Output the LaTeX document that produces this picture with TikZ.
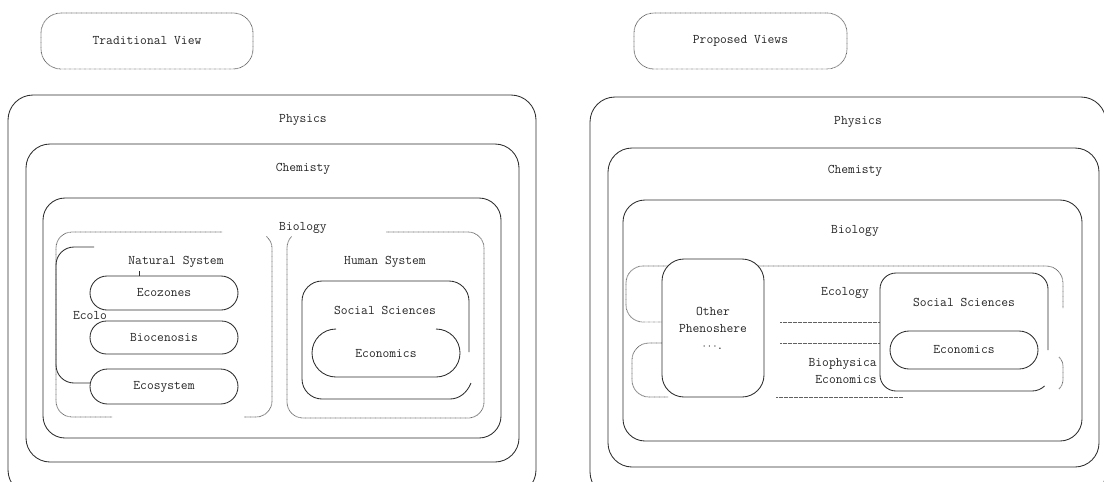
\documentclass[tikz,border=0pt]{standalone}
\usepackage{fontspec}
\begin{document}
\begin{tikzpicture}[x=1pt,y=-1pt,
  lbl/.style={font=\ttfamily\fontsize{13.2}{17}\selectfont, text=black!85, inner sep=0pt, align=center},
  solidline/.style={draw=black!82, line width=0.85pt},
  dotline/.style={draw=black!62, line width=0.8pt, dash pattern=on 0.7pt off 0.55pt},
  pill/.style={lbl, solidline, rounded corners=#1},
]
\clip (0,0) rectangle (1104,482);
\fill[white] (0,0) rectangle (1104,482);

% ---------- headings ----------
\node[lbl, dotline, rounded corners=20pt, minimum width=212pt, minimum height=56pt] (trad) at (147,41) {Traditional View};
\node[lbl, dotline, rounded corners=20pt, minimum width=213pt, minimum height=56pt] (prop) at (740.5,41) {Proposed Views};

% ---------- traditional view: nested disciplines ----------
\draw[solidline, rounded corners=25pt] (8,95) rectangle (536,495);
\draw[solidline, rounded corners=24pt] (26,144) rectangle (519,462);
\draw[solidline, rounded corners=22pt] (43,198) rectangle (501,438);
\node[lbl] (physL) at (303,120) {Physics};
\node[lbl] (chemL) at (303,169) {Chemisty};
\node[lbl] (bioL)  at (303,228) {Biology};

% natural system (dotted, open at the label and below)
\draw[dotline, rounded corners=16pt] (222,232) -- (56,232) -- (56,417) -- (112,417);
\draw[dotline] (266.5,236.5) .. controls (270,240) and (272,243.5) .. (272,248) -- (272,401)
  .. controls (272,409.8) and (264.8,417) .. (256,417) -- (244,417);
\node[lbl] (natsys) at (176,262) {Natural System};

% ecology bracket
\draw[solidline, rounded corners=18pt] (94,247) -- (56,247) -- (56,383) -- (90,383);
\node[lbl] (ecolL) at (90,316) {Ecolo};

\node[pill=17pt, minimum width=148pt, minimum height=34pt] (ecoz) at (164,293) {Ecozones};
\node[pill=16.5pt, fill=white, minimum width=148pt, minimum height=33pt] (biocen) at (164,337.5) {Biocenosis};
\node[pill=17.5pt, minimum width=148pt, minimum height=35pt] (ecosys) at (164,386.5) {Ecosystem};
\coordinate (tickA) at (139,271);
\draw[solidline] (tickA) -- (tickA |- ecoz.north);

% human system (dotted)
\draw[dotline] (291.5,236.5) .. controls (288.8,239.5) and (287,243.5) .. (287,248) -- (287,402)
  .. controls (287,410.8) and (294.2,418) .. (303,418) -- (468,418)
  .. controls (476.8,418) and (484,410.8) .. (484,402) -- (484,248)
  .. controls (484,239.2) and (476.8,232) .. (468,232) -- (386,232);
\node[lbl] (humsys) at (385,262) {Human System};

% social sciences and economics
\draw[solidline] (469,352) -- (469,301) .. controls (469,290) and (460,281) .. (449,281) -- (322,281)
  .. controls (311,281) and (302,290) .. (302,301) -- (302,379)
  .. controls (302,390) and (311,399) .. (322,399) -- (450,399)
  .. controls (459,399) and (467,393) .. (471,383);
\node[lbl] (socL) at (385,310) {Social Sciences};
\draw[solidline] (336,329) .. controls (322.7,329) and (312,339.7) .. (312,353)
  .. controls (312,366.3) and (322.7,377) .. (336,377) -- (436,377)
  .. controls (449.3,377) and (460,366.3) .. (460,353)
  .. controls (460,339.7) and (449.3,329) .. (436,329);
\node[lbl] (econL) at (386,354) {Economics};

% ---------- proposed views: nested disciplines ----------
\draw[solidline, rounded corners=25pt] (590,97) rectangle (1106,497);
\draw[solidline, rounded corners=24pt] (608,148) rectangle (1099,467);
\draw[solidline, rounded corners=22pt] (623,200) rectangle (1082,441);
\node[lbl] (physR) at (858,122) {Physics};
\node[lbl] (chemR) at (855,171) {Chemisty};
\node[lbl] (bioR)  at (855,231) {Biology};

% ecology band (dotted)
\draw[dotline, rounded corners=17pt] (1063,308) -- (1063,266) -- (626,266) -- (626,322) -- (668,322);
\draw[dotline] (780,322) -- (880,322);
% biophysical economics band (dotted)
\draw[dotline, rounded corners=17pt] (668,343) -- (632,343) -- (632,397) -- (668,397);
\draw[dotline] (780,343) -- (880,343);
\draw[dotline] (776,397) -- (903,397);
\draw[dotline] (1059,357) .. controls (1062,360) and (1063,363) .. (1063,367) -- (1063,379)
  .. controls (1063,383) and (1062,386) .. (1059,389);
\node[lbl] (ecolR) at (845,293) {Ecology};
\node[lbl] (bioeco) at (846,371) {Biophysica\phantom{l}\\Economics};

% other phenosphere
\node[pill=22pt, fill=white, minimum width=102pt, minimum height=138pt] (other) at (713,328) {Other\\Phenoshere\\$\cdots$.};

% social sciences and economics
\fill[white, rounded corners=16pt] (880,273) rectangle (1048,391);
\draw[solidline] (1048,350) -- (1048,289) .. controls (1048,280.2) and (1040.8,273) .. (1032,273) -- (896,273)
  .. controls (887.2,273) and (880,280.2) .. (880,289) -- (880,375)
  .. controls (880,383.8) and (887.2,391) .. (896,391) -- (1032,391)
  .. controls (1037,391) and (1041.5,389) .. (1044.5,386);
\node[lbl] (socR) at (964,302) {Social Sciences};
\node[pill=19pt, minimum width=148pt, minimum height=38pt] (econR) at (964,350) {Economics};
\end{tikzpicture}
\end{document}
